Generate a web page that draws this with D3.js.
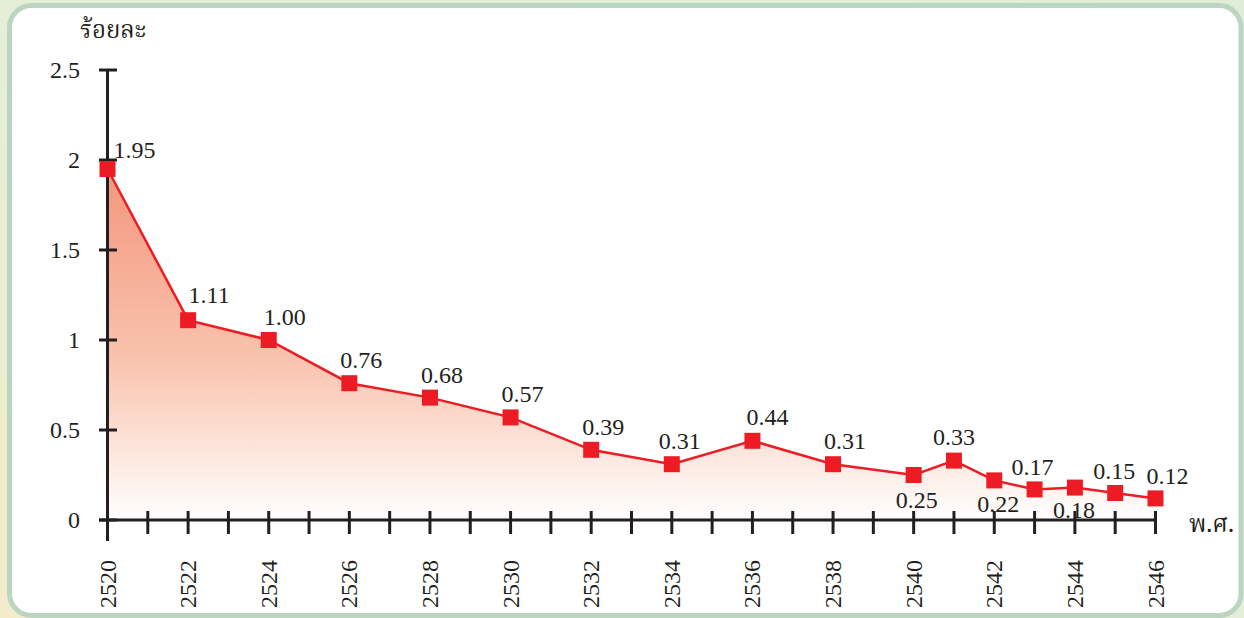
<!DOCTYPE html>
<html lang="th">
<head>
  <meta charset="UTF-8">
  <title>chart</title>
  <script src="https://cdnjs.cloudflare.com/ajax/libs/d3/7.8.5/d3.min.js"></script>
  <style>
    body { margin: 0; }
  </style>
</head>
<body>
<script>
  // data
  const years = [2520, 2522, 2524, 2526, 2528, 2530, 2532, 2534, 2536, 2538, 2540, 2541, 2542, 2543, 2544, 2545, 2546];
  const values = [1.95, 1.11, 1.00, 0.76, 0.68, 0.57, 0.39, 0.31, 0.44, 0.31, 0.25, 0.33, 0.22, 0.17, 0.18, 0.15, 0.12];
  const valueLabels = ["1.95", "1.11", "1.00", "0.76", "0.68", "0.57", "0.39", "0.31", "0.44", "0.31", "0.25", "0.33", "0.22", "0.17", "0.18", "0.15", "0.12"];
  const yTicks = [0, 0.5, 1, 1.5, 2, 2.5];
  const yTickLabels = ["0", "0.5", "1", "1.5", "2", "2.5"];
  const xLabelYears = d3.range(2520, 2547, 2);
  const yTitle = "ร้อยละ";
  const xTitle = "พ.ศ.";

  const w = 1244, h = 618;
  const serif = "'Liberation Serif', 'Times New Roman', 'DejaVu Serif', serif";
  const ink = "#231f20";

  // label placement tweaks [dx, dy]
  const labelShift = {
    2520: [27, -11], 2522: [21, -17], 2524: [16, -15], 2534: [8, -15], 2536: [15, -16],
    2540: [3, 33], 2541: [0, -16], 2542: [4, 32], 2543: [-2, -14],
    2544: [-1, 30], 2545: [-1, -14], 2546: [12, -14]
  };

  const x = d3.scaleLinear().domain([2520, 2546]).range([107.5, 1155.5]);
  const y = d3.scaleLinear().domain([0, 2.5]).range([520, 70]);

  const svg = d3.select("body").append("svg")
    .attr("width", w)
    .attr("height", h);

  const defs = svg.append("defs");
  const bg = defs.append("linearGradient").attr("id", "bg")
    .attr("x1", "100%").attr("y1", "0%").attr("x2", "0%").attr("y2", "100%");
  bg.append("stop").attr("offset", "0%").attr("stop-color", "#dfecd8");
  bg.append("stop").attr("offset", "60%").attr("stop-color", "#e6eed6");
  bg.append("stop").attr("offset", "100%").attr("stop-color", "#f3ecca");

  const area = defs.append("linearGradient").attr("id", "areaFill")
    .attr("gradientUnits", "userSpaceOnUse")
    .attr("x1", 0).attr("y1", y(2)).attr("x2", 0).attr("y2", y(0));
  area.append("stop").attr("offset", "0%").attr("stop-color", "#f4937a");
  area.append("stop").attr("offset", "55%").attr("stop-color", "#f9c3ad");
  area.append("stop").attr("offset", "100%").attr("stop-color", "#ffffff");

  svg.append("rect").attr("width", w).attr("height", h).attr("fill", "url(#bg)");
  svg.append("rect")
    .attr("x", 9.5).attr("y", 5.5)
    .attr("width", 1231.5).attr("height", 610)
    .attr("rx", 22)
    .attr("fill", "#ffffff")
    .attr("stroke", "#bbd5c1")
    .attr("stroke-width", 5);

  const pts = years.map((d, i) => [d, values[i]]);

  // area + line
  svg.append("path")
    .datum(pts)
    .attr("fill", "url(#areaFill)")
    .attr("d", d3.area().x(d => x(d[0])).y0(y(0)).y1(d => y(d[1])));

  svg.append("path")
    .datum(pts)
    .attr("fill", "none")
    .attr("stroke", "#ed1c24")
    .attr("stroke-width", 2.5)
    .attr("d", d3.line().x(d => x(d[0])).y(d => y(d[1])));

  // axes
  const ax = svg.append("g").attr("stroke", ink).attr("stroke-width", 3);
  ax.append("line").attr("x1", x(2520)).attr("x2", x(2520)).attr("y1", y(2.5)).attr("y2", 541);
  ax.append("line").attr("x1", 99).attr("x2", x(2546)).attr("y1", y(0)).attr("y2", y(0));
  ax.selectAll(".ytick").data(yTicks).enter().append("line")
    .attr("x1", 99).attr("x2", 117)
    .attr("y1", d => y(d)).attr("y2", d => y(d));
  ax.selectAll(".xtick").data(d3.range(2521, 2547)).enter().append("line")
    .attr("x1", d => x(d)).attr("x2", d => x(d))
    .attr("y1", y(0) - 9).attr("y2", y(0) + 14);

  svg.selectAll(".ylab").data(yTicks).enter().append("text")
    .attr("x", 80)
    .attr("y", d => y(d) + 8)
    .attr("text-anchor", "end")
    .attr("font-family", serif)
    .attr("font-size", 24)
    .attr("fill", ink)
    .text((d, i) => yTickLabels[i]);

  svg.selectAll(".xlab").data(xLabelYears).enter().append("text")
    .attr("transform", d => `translate(${x(d) + 8},560) rotate(-90)`)
    .attr("text-anchor", "end")
    .attr("font-family", serif)
    .attr("font-size", 24)
    .attr("fill", ink)
    .text(d => d);

  svg.append("text")
    .attr("x", 80).attr("y", 38)
    .attr("font-family", "'Noto Serif Thai', 'Noto Sans Thai', 'Loma', sans-serif")
    .attr("font-size", 24)
    .attr("fill", ink)
    .text(yTitle);
  svg.append("text")
    .attr("x", 1189).attr("y", 532)
    .attr("font-family", "'Noto Serif Thai', 'Noto Sans Thai', 'Loma', sans-serif")
    .attr("font-size", 24)
    .attr("fill", ink)
    .text(xTitle);

  // markers
  svg.selectAll(".mk").data(pts).enter().append("rect")
    .attr("x", d => x(d[0]) - 8)
    .attr("y", d => y(d[1]) - 8)
    .attr("width", 16).attr("height", 16)
    .attr("fill", "#ed1c24");

  // value labels
  svg.selectAll(".vl").data(pts).enter().append("text")
    .attr("x", d => x(d[0]) + (labelShift[d[0]] ? labelShift[d[0]][0] : 12))
    .attr("y", d => y(d[1]) + (labelShift[d[0]] ? labelShift[d[0]][1] : -15))
    .attr("text-anchor", "middle")
    .attr("font-family", serif)
    .attr("font-size", 24)
    .attr("fill", ink)
    .text((d, i) => valueLabels[i]);
</script>
</body>
</html>
